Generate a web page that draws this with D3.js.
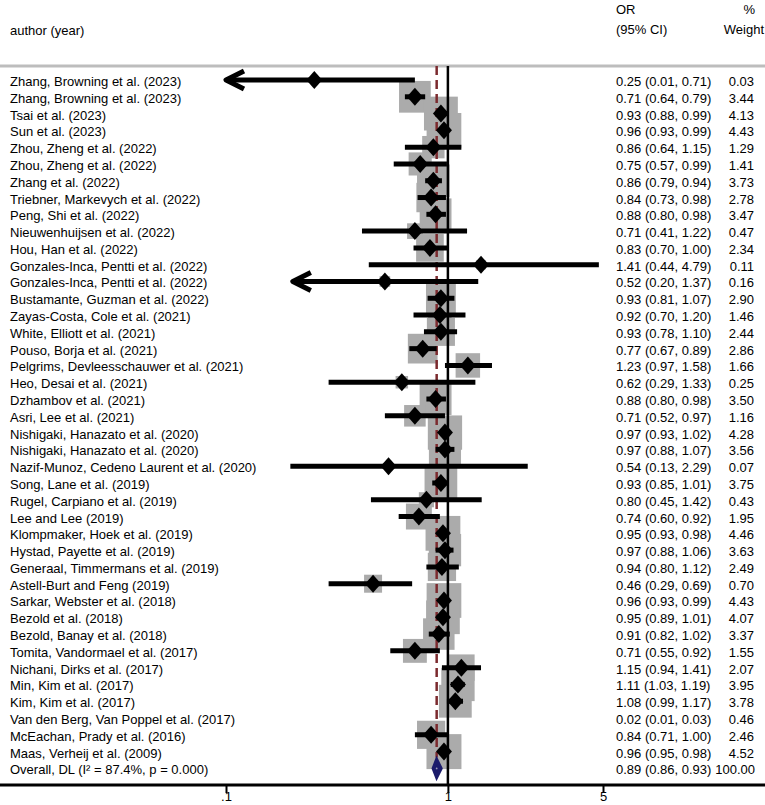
<!DOCTYPE html>
<html>
<head>
<meta charset="utf-8">
<script src="https://cdn.jsdelivr.net/npm/d3@7"></script>
<style>
  html, body { margin: 0; padding: 0; background: #fff; }
  svg { display: block; }
  text { font-family: "Liberation Sans", Arial, sans-serif; font-size: 13px; fill: #000; }
</style>
</head>
<body>
<svg id="chart" width="765" height="805"></svg>
<script>
// ---------- data ----------
const studies = [
  "Zhang, Browning et al. (2023)", "Zhang, Browning et al. (2023)", "Tsai et al. (2023)", "Sun et al. (2023)",
  "Zhou, Zheng et al. (2022)", "Zhou, Zheng et al. (2022)", "Zhang et al. (2022)", "Triebner, Markevych et al. (2022)",
  "Peng, Shi et al. (2022)", "Nieuwenhuijsen et al. (2022)", "Hou, Han et al. (2022)", "Gonzales-Inca, Pentti et al. (2022)",
  "Gonzales-Inca, Pentti et al. (2022)", "Bustamante, Guzman et al. (2022)", "Zayas-Costa, Cole et al. (2021)", "White, Elliott et al. (2021)",
  "Pouso, Borja et al. (2021)", "Pelgrims, Devleesschauwer et al. (2021)", "Heo, Desai et al. (2021)", "Dzhambov et al. (2021)",
  "Asri, Lee et al. (2021)", "Nishigaki, Hanazato et al. (2020)", "Nishigaki, Hanazato et al. (2020)", "Nazif-Munoz, Cedeno Laurent et al. (2020)",
  "Song, Lane et al. (2019)", "Rugel, Carpiano et al. (2019)", "Lee and Lee (2019)", "Klompmaker, Hoek et al. (2019)",
  "Hystad, Payette et al. (2019)", "Generaal, Timmermans et al. (2019)", "Astell-Burt and Feng (2019)", "Sarkar, Webster et al. (2018)",
  "Bezold et al. (2018)", "Bezold, Banay et al. (2018)", "Tomita, Vandormael et al. (2017)", "Nichani, Dirks et al. (2017)",
  "Min, Kim et al. (2017)", "Kim, Kim et al. (2017)", "Van den Berg, Van Poppel et al. (2017)", "McEachan, Prady et al. (2016)",
  "Maas, Verheij et al. (2009)"
];
const orValue = [0.25,0.71,0.93,0.96,0.86,0.75,0.86,0.84,0.88,0.71,0.83,1.41,0.52,0.93,0.92,0.93,0.77,1.23,0.62,0.88,0.71,0.97,0.97,0.54,0.93,0.80,0.74,0.95,0.97,0.94,0.46,0.96,0.95,0.91,0.71,1.15,1.11,1.08,0.02,0.84,0.96];
const ciLow   = [0.01,0.64,0.88,0.93,0.64,0.57,0.79,0.73,0.80,0.41,0.70,0.44,0.20,0.81,0.70,0.78,0.67,0.97,0.29,0.80,0.52,0.93,0.88,0.13,0.85,0.45,0.60,0.93,0.88,0.80,0.29,0.93,0.89,0.82,0.55,0.94,1.03,0.99,0.01,0.71,0.95];
const ciHigh  = [0.71,0.79,0.99,0.99,1.15,0.99,0.94,0.98,0.98,1.22,1.00,4.79,1.37,1.07,1.20,1.10,0.89,1.58,1.33,0.98,0.97,1.02,1.07,2.29,1.01,1.42,0.92,0.98,1.06,1.12,0.69,0.99,1.01,1.02,0.92,1.41,1.19,1.17,0.03,1.00,0.98];
const weight  = [0.03,3.44,4.13,4.43,1.29,1.41,3.73,2.78,3.47,0.47,2.34,0.11,0.16,2.90,1.46,2.44,2.86,1.66,0.25,3.50,1.16,4.28,3.56,0.07,3.75,0.43,1.95,4.46,3.63,2.49,0.70,4.43,4.07,3.37,1.55,2.07,3.95,3.78,0.46,2.46,4.52];
// rows drawn with a left arrow, and lower ends as they appear drawn in the figure
const arrowRows = [0, 12];
const drawnLowOverride = { 23: 0.195 };
const overall = { label: "Overall, DL (I\u00B2 = 87.4%, p = 0.000)", or: 0.89, lo: 0.86, hi: 0.93, weight: "100.00" };
const tickValues = [0.1, 1, 5];
const tickLabels = [".1", "1", "5"];

// ---------- layout ----------
const svg = d3.select("#chart");
const x = d3.scaleLog().domain([0.1, 5]).range([226, 603]);
const nRows = studies.length + 1;
const y = d3.scaleLinear().domain([0, nRows - 1]).range([80, 768.4]);
const boxSide = d3.scalePow().exponent(0.356).domain([0, 0.7]).range([0, 18]);
const fmt = d3.format(".2f");
const topLine = 66, axisY = 785;

// header
svg.append("text").attr("x", 10).attr("y", 35).text("author (year)");
svg.append("text").attr("x", 616).attr("y", 14).text("OR");
svg.append("text").attr("x", 616).attr("y", 34).text("(95% CI)");
svg.append("text").attr("x", 755).attr("y", 14).attr("text-anchor", "end").text("%");
svg.append("text").attr("x", 764).attr("y", 34).attr("text-anchor", "end").text("Weight");
svg.append("line").attr("x1", 0).attr("x2", 765).attr("y1", topLine).attr("y2", topLine)
  .attr("stroke", "#bdbdbd").attr("stroke-width", 3);

const rows = studies.map((s, i) => ({
  i, name: s, or: orValue[i], lo: ciLow[i], hi: ciHigh[i], w: weight[i],
  drawLo: drawnLowOverride[i] !== undefined ? drawnLowOverride[i] : ciLow[i],
  arrow: arrowRows.includes(i)
}));
const visible = rows.filter(r => r.hi >= 0.1);

// weight boxes
svg.append("g").selectAll("rect").data(visible).join("rect")
  .attr("x", d => x(d.or) - boxSide(d.w) / 2)
  .attr("y", d => y(d.i) - boxSide(d.w) / 2)
  .attr("width", d => boxSide(d.w))
  .attr("height", d => boxSide(d.w))
  .attr("fill", "#ababab");

// reference line at 1
svg.append("line").attr("x1", x(1)).attr("x2", x(1)).attr("y1", topLine).attr("y2", axisY)
  .attr("stroke", "#000").attr("stroke-width", 2.5);
// overall dashed line
svg.append("line").attr("x1", x(overall.or)).attr("x2", x(overall.or))
  .attr("y1", topLine).attr("y2", y(nRows - 1) - 11)
  .attr("stroke", "#7b2a2e").attr("stroke-width", 2.5).attr("stroke-dasharray", "9,5");

// CI lines
const ciG = svg.append("g");
visible.forEach(d => {
  const lo = Math.max(d.drawLo, 0.1);
  const hi = Math.min(d.hi, 5);
  const yy = y(d.i);
  ciG.append("line").attr("x1", x(lo)).attr("x2", x(hi)).attr("y1", yy).attr("y2", yy)
    .attr("stroke", "#000").attr("stroke-width", 5);
  if (d.arrow) {
    const tx = x(lo);
    ciG.append("path")
      .attr("d", `M${tx + 18},${yy - 9}L${tx},${yy}L${tx + 18},${yy + 9}`)
      .attr("fill", "none").attr("stroke", "#000").attr("stroke-width", 5)
      .attr("stroke-linejoin", "round");
  }
});

// point estimates
svg.append("g").selectAll("path").data(visible.filter(d => d.or >= 0.1 && d.or <= 5)).join("path")
  .attr("d", d => {
    const cx = x(d.or), cy = y(d.i);
    return `M${cx - 8},${cy}L${cx},${cy - 9}L${cx + 8},${cy}L${cx},${cy + 9}Z`;
  })
  .attr("fill", "#000");

// overall diamond
const oy = y(nRows - 1);
svg.append("path")
  .attr("d", `M${x(overall.lo)},${oy}L${x(overall.or)},${oy - 8.5}L${x(overall.hi)},${oy}L${x(overall.or)},${oy + 8.5}Z`)
  .attr("fill", "#1b1b6b").attr("stroke", "#1b1b6b").attr("stroke-width", 3.5).attr("stroke-linejoin", "miter");
svg.append("circle").attr("cx", x(overall.or)).attr("cy", oy).attr("r", 0.9).attr("fill", "#9a9ab8");

// labels
const lab = svg.append("g");
rows.forEach(d => {
  const yy = y(d.i) + 6;
  lab.append("text").attr("x", 10).attr("y", yy).text(d.name);
  lab.append("text").attr("x", 616).attr("y", yy).text(`${fmt(d.or)} (${fmt(d.lo)}, ${fmt(d.hi)})`);
  lab.append("text").attr("x", 754).attr("y", yy).attr("text-anchor", "end").text(fmt(d.w));
});
lab.append("text").attr("x", 10).attr("y", oy + 6).text(overall.label);
lab.append("text").attr("x", 616).attr("y", oy + 6).text(`${fmt(overall.or)} (${fmt(overall.lo)}, ${fmt(overall.hi)})`);
lab.append("text").attr("x", 755).attr("y", oy + 6).attr("text-anchor", "end").text(overall.weight);

// axis
svg.append("line").attr("x1", 0).attr("x2", 765).attr("y1", axisY).attr("y2", axisY)
  .attr("stroke", "#000").attr("stroke-width", 3);
const axis = d3.axisBottom(x).tickValues(tickValues).tickFormat((d, i) => tickLabels[i]).tickSize(8).tickPadding(2);
const ag = svg.append("g").attr("transform", `translate(0,${axisY})`).call(axis);
ag.select(".domain").remove();
ag.selectAll(".tick line").attr("stroke", "#000").attr("stroke-width", 2);
ag.selectAll(".tick text")
  .attr("y", 16).attr("dy", 0)
  .attr("font-family", "Liberation Sans, Arial, sans-serif").attr("font-size", 11).attr("fill", "#000");
</script>
</body>
</html>
